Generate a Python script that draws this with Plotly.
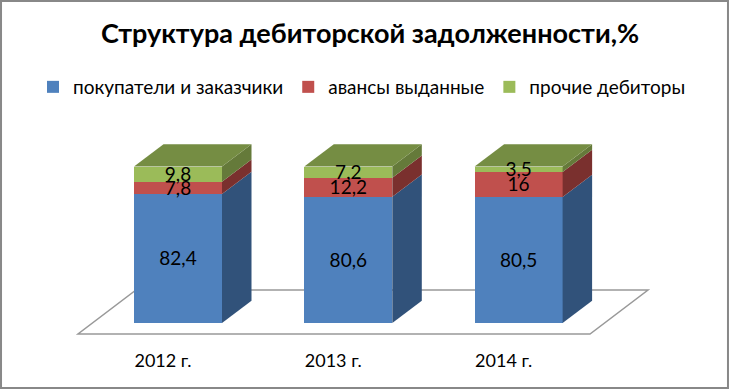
import plotly.graph_objects as go

years = ["2012 г.", "2013 г.", "2014 г."]
series_names = ["покупатели и заказчики", "авансы выданные", "прочие дебиторы"]
buyers = [82.4, 80.6, 80.5]
advances = [7.8, 12.2, 16]
others = [9.8, 7.2, 3.5]
title = "Структура дебиторской задолженности,%"

series = [buyers, advances, others]
front = ["#4f81bd", "#c0504d", "#9bbb59"]
side = ["#31527a", "#7a302e", "#657a3a"]
top_col = "#758d43"

W, H, B = 729, 389, 43
pxu_x, pxu_y = 170.3, 1.565
x0_px, y0_px = 178, 323
xr = [-x0_px / pxu_x, (W - x0_px) / pxu_x]
yr = [(y0_px - (H - B)) / pxu_y, y0_px / pxu_y]
bw = 88 / pxu_x
dx, dy = 29.5 / pxu_x, 22.3 / pxu_y
tick_off = 15 / pxu_x
label_nudge = 2 / pxu_y
xs = list(range(len(years)))

fig = go.Figure()
for name, vals, c in zip(series_names, series, front):
    fig.add_bar(x=xs, y=vals, name=name, width=bw, marker=dict(color=c, line_width=0), hoverinfo="skip")

# side and top faces, derived from the stacked values
for i in xs:
    r = i + bw / 2
    base = 0
    for vals, c in zip(series, side):
        t = base + vals[i]
        fig.add_scatter(x=[r, r + dx, r + dx, r, r], y=[base, base + dy, t + dy, t, base],
                        mode="lines", fill="toself", fillcolor=c, line=dict(width=0),
                        showlegend=False, hoverinfo="skip")
        base = t
    l = i - bw / 2
    fig.add_scatter(x=[l, r, r + dx, l + dx, l], y=[base, base, base + dy, base + dy, base],
                    mode="lines", fill="toself", fillcolor=top_col, line=dict(width=0),
                    showlegend=False, hoverinfo="skip")

# value labels
tx, ty, tt = [], [], []
for i in xs:
    base = 0
    for vals in series:
        tx.append(i)
        ty.append(base + vals[i] / 2 - label_nudge)
        tt.append(str(vals[i]).replace(".", ","))
        base += vals[i]
fig.add_scatter(x=tx, y=ty, text=tt, mode="text", textposition="middle center",
                textfont=dict(size=19, color="#000000", family="Lato, 'Open Sans', sans-serif"),
                showlegend=False, hoverinfo="skip")

fx0, fx1 = (78 - x0_px) / pxu_x, (590 - x0_px) / pxu_x
fy = (y0_px - 334) / pxu_y
fdx, fdy = 58 / pxu_x, 44 / pxu_y
floor = f"M{fx0},{fy} L{fx1},{fy} L{fx1 + fdx},{fy + fdy} L{fx0 + fdx},{fy + fdy} Z"

plot_h = H - B
fig.update_layout(
    width=W, height=H, barmode="stack", paper_bgcolor="white", plot_bgcolor="white",
    margin=dict(l=0, r=0, t=0, b=B, autoexpand=False),
    font=dict(family="Lato, 'Open Sans', sans-serif", color="#000000"),
    title=dict(text=f"<b>{title}</b>", x=370 / W, xanchor="center", xref="paper",
               y=1 - 34 / H, yanchor="middle", font=dict(size=27)),
    xaxis=dict(range=xr, tickvals=[i - tick_off for i in xs], ticktext=years, showgrid=False,
               zeroline=False, showline=False, ticks="", tickfont=dict(size=18), ticklabelstandoff=2),
    yaxis=dict(range=yr, visible=False, showgrid=False, zeroline=False),
    legend=dict(orientation="h", traceorder="normal", x=362 / W, xanchor="center", y=1 - 87 / plot_h, yanchor="middle",
                font=dict(size=19), bgcolor="rgba(0,0,0,0)", itemclick=False, itemdoubleclick=False),
    shapes=[
        dict(type="path", path=floor, xref="x", yref="y", layer="below",
             line=dict(color="#999999", width=1.5), fillcolor="white"),
        dict(type="rect", xref="paper", yref="paper", x0=0.0014, x1=0.9986,
             y0=1 - (H - 1) / plot_h, y1=1 - 1 / plot_h, layer="above",
             line=dict(color="#888888", width=2), fillcolor="rgba(0,0,0,0)"),
    ],
)
fig.write_html("out.html", post_script="document.body.style.margin='0';", config=dict(displayModeBar=False))
